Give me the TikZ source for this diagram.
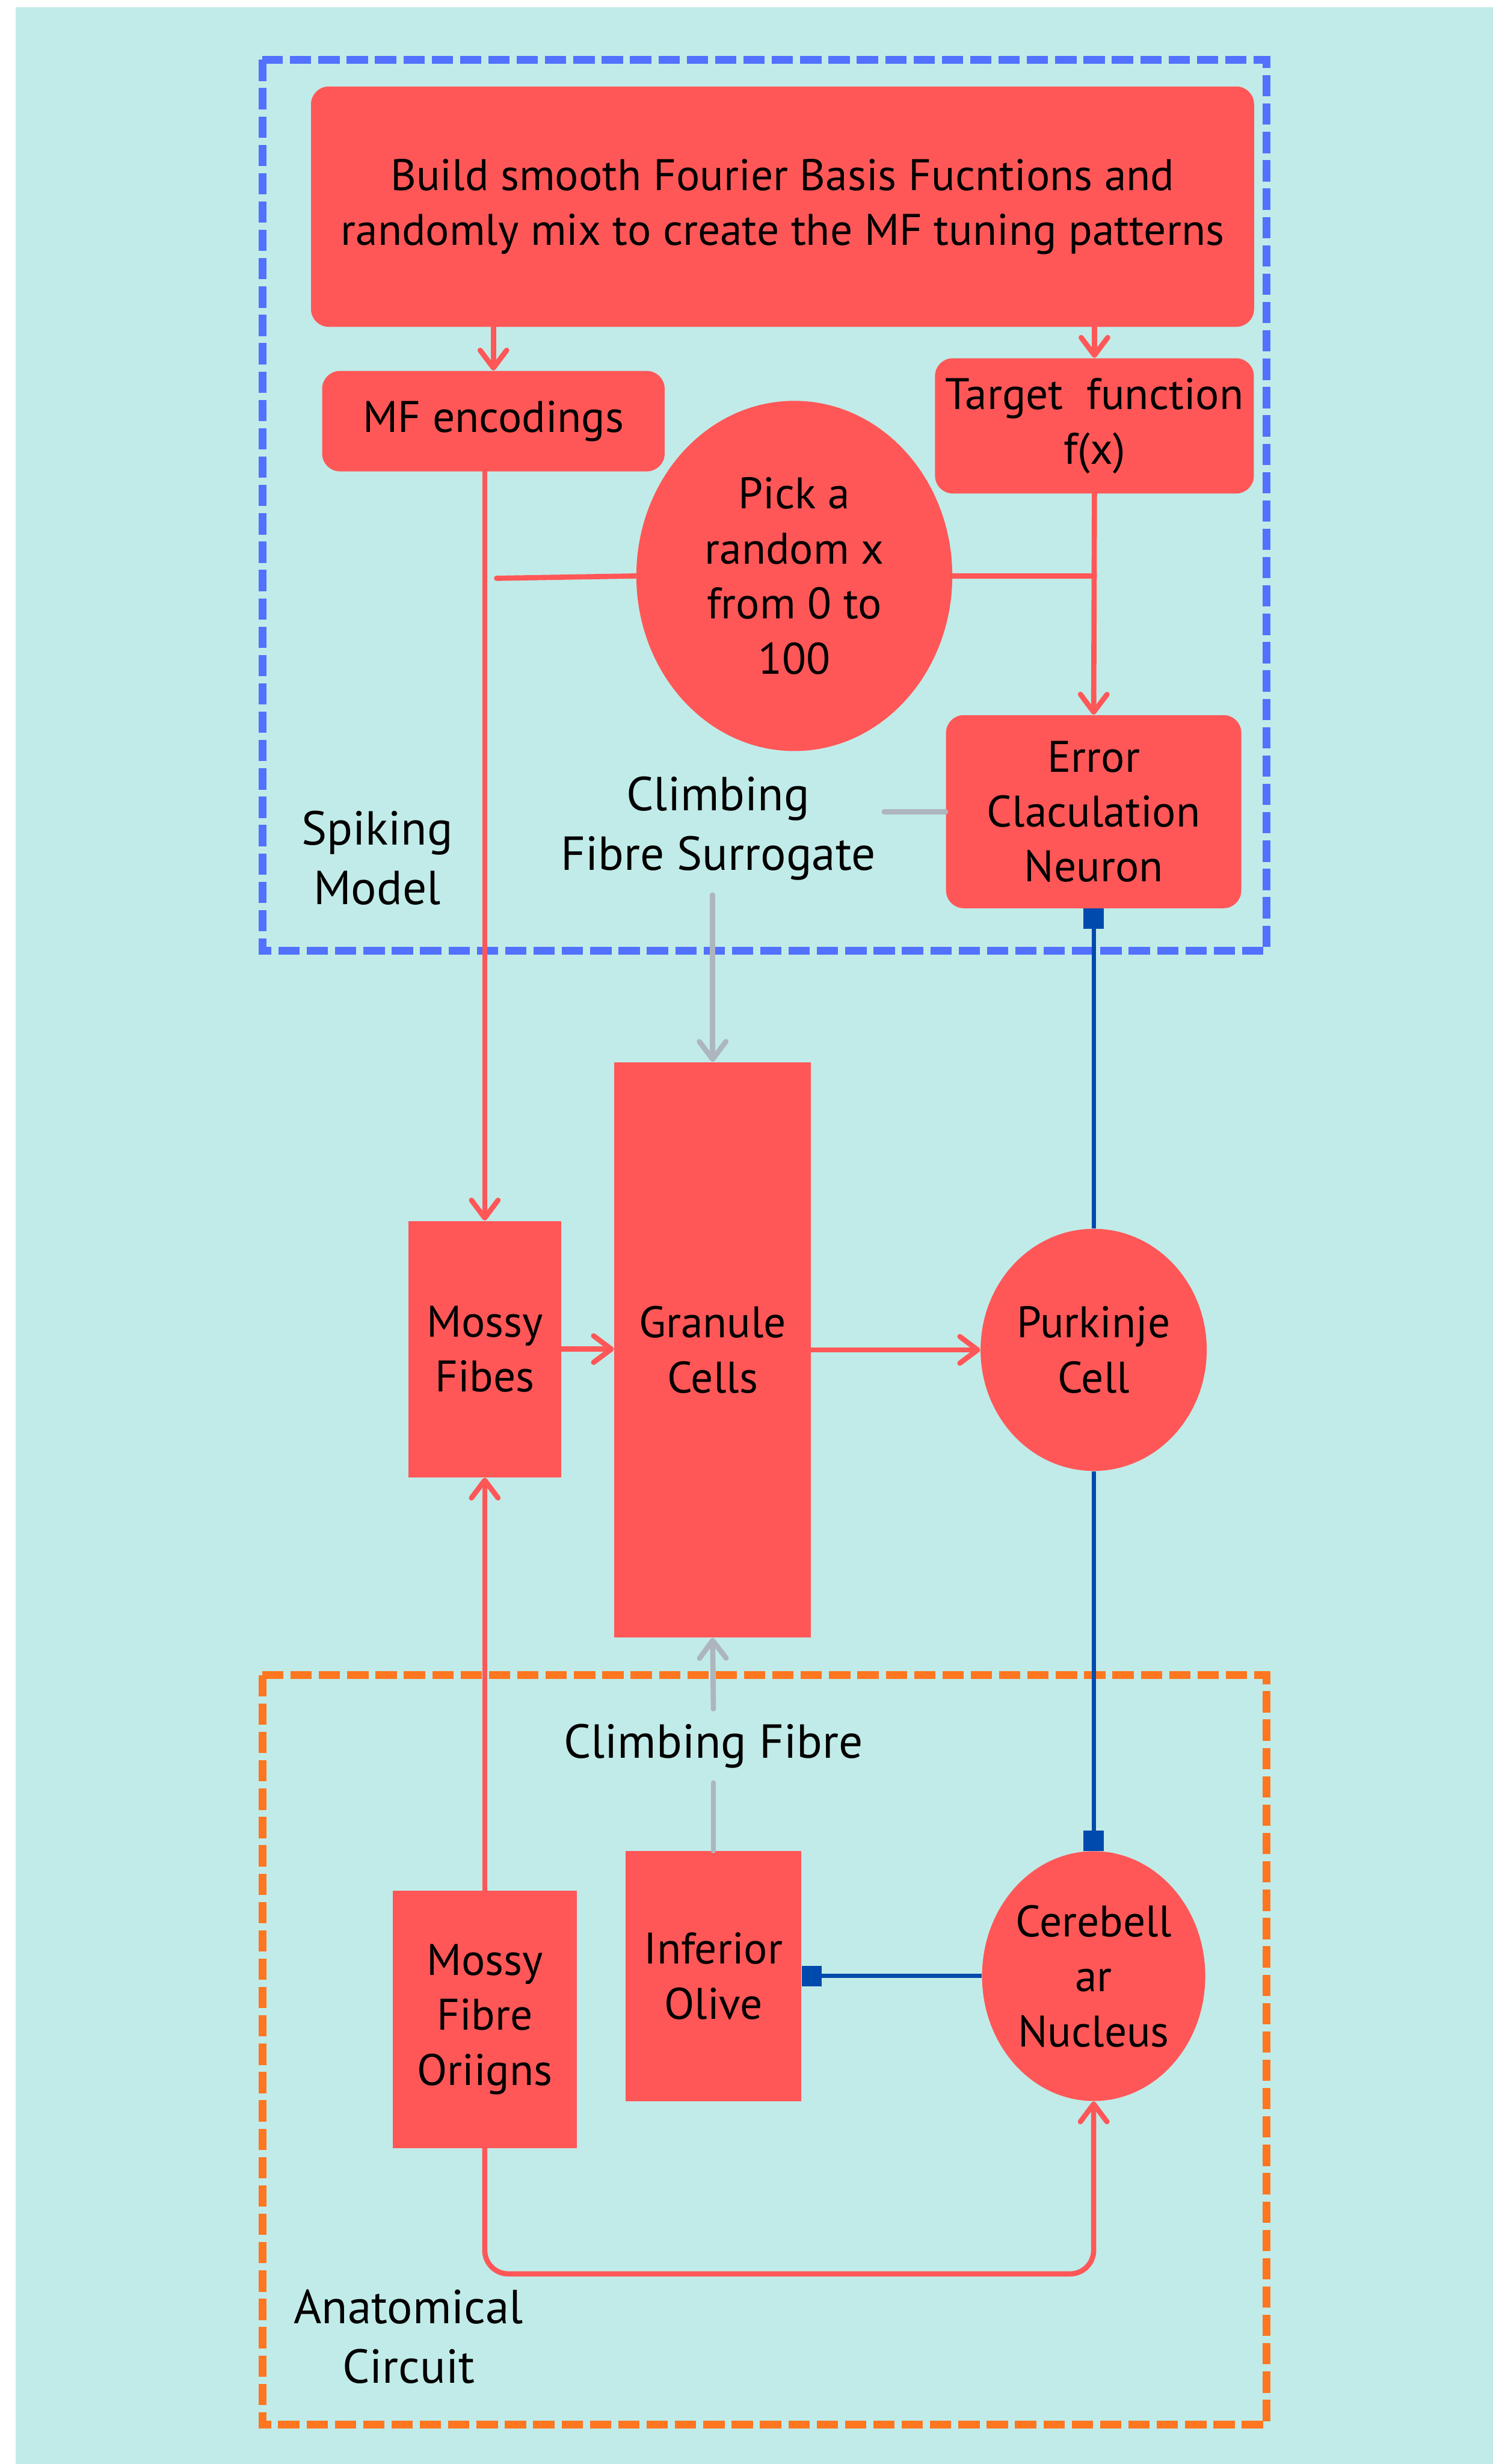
\documentclass[tikz,border=0pt]{standalone}
\usepackage{fontspec}
\setmainfont{PT Sans}
\usetikzlibrary{arrows.meta,shapes.geometric}

\definecolor{bgcyan}{HTML}{C1EBE8}
\definecolor{cellred}{HTML}{FF5757}
\definecolor{modelblue}{HTML}{5271FF}
\definecolor{circuitorange}{HTML}{FF7620}
\definecolor{linkblue}{HTML}{004AAD}
\definecolor{linkgrey}{HTML}{ADB5BD}

\tikzset{
  cell/.style={fill=cellred, align=center, inner sep=0pt,
    font=\fontsize{21.3}{26.5}\selectfont},
  roundcell/.style={cell, rounded corners=0.3cm},
  ovalcell/.style={cell, ellipse},
  tag/.style={align=center, inner xsep=4pt, inner ysep=7pt,
    font=\fontsize{23}{28.7}\selectfont},
  redline/.style={draw=cellred, line width=2.5pt, line cap=round},
  redlink/.style={redline, -{Straight Barb[length=0.3cm,width=0.45cm,round]}},
  greyline/.style={draw=linkgrey, line width=2.5pt, line cap=round},
  greylink/.style={greyline, -{Straight Barb[length=0.3cm,width=0.45cm,round]}},
  bluelink/.style={draw=linkblue, line width=2pt, {Square[length=0.34cm,width=0.34cm]}-},
  groupbox/.style={line width=3.7pt, dash pattern=on 0.36cm off 0.12cm}
}

\begin{document}
\begin{tikzpicture}[x=0.02661cm, y=-0.02661cm]
  \useasboundingbox (0,0) rectangle (950,1568);
  \fill[white] (0,0) rectangle (950,1568);
  \fill[bgcyan] (10,4.5) rectangle (950,1568);

  % group frames
  \draw[groupbox, modelblue] (167,38) rectangle (806,605);
  \draw[groupbox, circuitorange] (167,1066) rectangle (806,1543);

  % spiking model
  \node[roundcell, minimum width=15.97cm, minimum height=4.07cm] (basis) at (498,131.5)
    {Build smooth Fourier Basis Fucntions and\\randomly mix to create the MF tuning patterns};
  \node[roundcell, minimum width=5.8cm, minimum height=1.7cm] (mfenc) at (314,268) {MF encodings};
  \node[roundcell, minimum width=5.4cm, minimum height=2.29cm] (target) at (696.5,271) {Target\ \ function\\f(x)};
  \node[ovalcell, minimum width=5.35cm, minimum height=5.93cm] (pick) at (505.5,366.5) {Pick a\\random x\\from 0 to\\100};
  \node[roundcell, minimum width=5cm, minimum height=3.27cm] (error) at (696,516.5) {Error\\Claculation\\Neuron};
  \node[tag] (cfsur) at (457,527) {Climbing\\Fibre Surrogate};
  \node[tag] (spiking) at (240,546) {Spiking\\Model};

  % cerebellar cortex
  \node[cell, minimum width=2.58cm, minimum height=4.34cm] (mossy) at (308.5,858.5) {Mossy\\Fibes};
  \node[cell, minimum width=3.33cm, minimum height=9.74cm] (granule) at (453.5,859) {Granule\\Cells};
  \node[ovalcell, minimum width=3.83cm, minimum height=4.1cm] (purkinje) at (696,859) {Purkinje\\Cell};

  % anatomical circuit
  \node[tag] (cf) at (454,1111) {Climbing Fibre};
  \node[cell, minimum width=2.98cm, minimum height=4.23cm] (olive) at (454,1257.5) {Inferior\\Olive};
  \node[cell, minimum width=3.11cm, minimum height=4.36cm] (origins) at (308.5,1285) {Mossy\\Fibre\\Oriigns};
  \node[ovalcell, minimum width=3.78cm, minimum height=4.23cm] (nucleus) at (696,1257.5) {Cerebell\\ar\\Nucleus};
  \node[tag] (anat) at (260,1487) {Anatomical\\Circuit};

  \coordinate (pickend) at (316,368);
  \coordinate (loop) at (696,1447);

  % connections
  \draw[redlink] (basis.south -| mfenc) -- (mfenc.north);
  \draw[redlink] (basis.south -| target) -- (target.north);
  \draw[redlink] (mfenc.south -| mossy) -- (mossy.north);
  \draw[redline] (pick.west) -- (pickend);
  \draw[redline] (pick.east) -- (pick.east -| target);
  \draw[redlink] (target.south) -- (error.north);
  \draw[greyline] (error.west) -- (error.west -| cfsur.east);
  \draw[greylink] (cfsur.south -| granule) -- (granule.north);
  \draw[redlink] (mossy.east) -- (mossy.east -| granule.west);
  \draw[redlink] (granule.east |- purkinje) -- (purkinje.west);
  \draw[bluelink] (error.south) -- (purkinje.north);
  \draw[bluelink] (nucleus.north) -- (purkinje.south);
  \draw[bluelink] (olive.east |- nucleus) -- (nucleus.west);
  \draw[greyline] (olive.north) -- (cf.south);
  \draw[greylink] (cf.north) -- (granule.south);
  \draw[redlink] (origins.north) -- (mossy.south);
  \draw[redlink, rounded corners=0.4cm] (origins.south) |- (loop) -- (nucleus.south);
\end{tikzpicture}
\end{document}
